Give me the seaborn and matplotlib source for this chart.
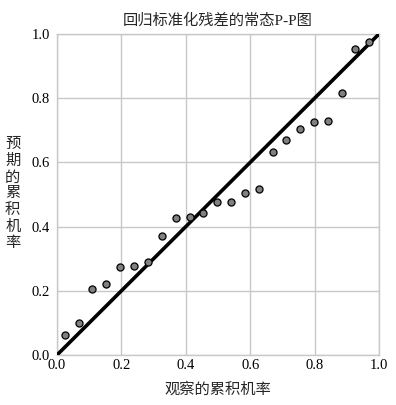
import matplotlib
matplotlib.use("Agg")
import matplotlib.pyplot as plt
import seaborn as sns
import pandas as pd

observed = [0.024, 0.067, 0.110, 0.153, 0.196, 0.240, 0.282, 0.326, 0.369, 0.412,
            0.454, 0.498, 0.540, 0.584, 0.626, 0.670, 0.712, 0.755, 0.798, 0.841,
            0.884, 0.926, 0.970]
expected = [0.061, 0.100, 0.207, 0.220, 0.273, 0.277, 0.290, 0.370, 0.427, 0.430,
            0.441, 0.476, 0.477, 0.505, 0.518, 0.631, 0.669, 0.704, 0.725, 0.730,
            0.816, 0.952, 0.974]
ref_line = [0.0, 1.0]
ticks = [0.0, 0.2, 0.4, 0.6, 0.8, 1.0]
tick_labels = ["0.0", "0.2", "0.4", "0.6", "0.8", "1.0"]
title = "回归标准化残差的常态P-P图"
xlabel = "观察的累积机率"
ylabel = "预期的累积机率"

sns.set_style("white")
plt.rcParams['font.family'] = ['Liberation Serif', 'Noto Sans CJK SC', 'DejaVu Sans']

df = pd.DataFrame({"obs": observed, "exp": expected})
line_df = pd.DataFrame({"x": ref_line, "y": ref_line})

fig = plt.figure(figsize=(3.96, 4.05), dpi=100)
ax = fig.add_axes([0.144, 0.1235, 0.813, 0.7925])

sns.lineplot(data=line_df, x="x", y="y", ax=ax, color="black", linewidth=2.6, zorder=3)
sns.scatterplot(data=df, x="obs", y="exp", ax=ax, color="#808080", edgecolor="black",
                linewidth=0.9, s=26, zorder=4)

ax.set_xlim(0, 1)
ax.set_ylim(0, 1)
ax.set_xticks(ticks)
ax.set_xticklabels(tick_labels)
ax.set_yticks(ticks)
ax.set_yticklabels(tick_labels)
ax.grid(True, color="#c8c8c8", linewidth=1.0)
ax.set_axisbelow(True)
for sp in ax.spines.values():
    sp.set_color("#c8c8c8")
    sp.set_linewidth(1.0)
ax.tick_params(axis="x", length=0, labelsize=10.5, pad=3, colors="black")
ax.tick_params(axis="y", length=3, width=0.8, color="#a0a0a0", labelcolor="black",
               labelsize=10.5, pad=2)
ax.set_xlabel(xlabel, fontsize=11, labelpad=7)
ax.set_ylabel("")
fig.text(0.032, 0.521, "\n".join(ylabel), fontsize=11, ha="center", va="center", linespacing=1.25)
ax.set_title(title, fontsize=11, pad=7)

fig.savefig("out.png", dpi=100)
